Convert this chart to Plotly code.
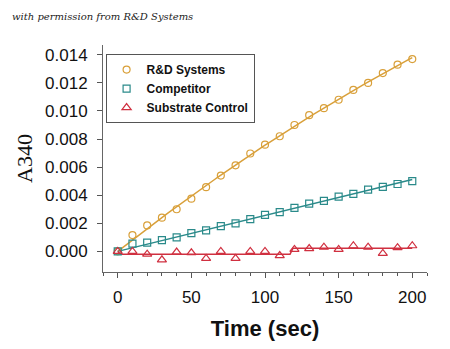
import numpy as np
import plotly.graph_objects as go

time_s = list(range(0, 201, 10))
rd_systems = [0.0000, 0.00116, 0.00185, 0.0024, 0.0030, 0.00375, 0.00457, 0.0054, 0.00613,
              0.00697, 0.0076, 0.0082, 0.0090, 0.0097, 0.0102, 0.0108, 0.0115, 0.0120,
              0.0127, 0.0133, 0.0137]
competitor = [0.0000, 0.00055, 0.00062, 0.0008, 0.0010, 0.0013, 0.0015, 0.0018, 0.0020,
              0.0023, 0.0026, 0.0028, 0.0031, 0.0034, 0.0036, 0.0039, 0.0041, 0.0044,
              0.0046, 0.0048, 0.0050]
substrate_ctrl = [0.0000, 0.0000, -0.0002, -0.0006, -0.00005, -0.0001, -0.0005, 0.0000, -0.0005,
                  0.0000, 0.0000, -0.0003, 0.00014, 0.0002, 0.0003, 0.00014, 0.0004, 0.0003,
                  -0.00015, 0.00026, 0.0004]
ctrl_step_at = 118  # time where control baseline shifts

x_ticks = [0, 50, 100, 150, 200]
y_ticks = [0.000, 0.002, 0.004, 0.006, 0.008, 0.010, 0.012, 0.014]

ORANGE = "#D9A03A"
TEAL = "#2A8A8A"
RED = "#D03040"

t = np.array(time_s, dtype=float)
tf = np.linspace(0, 200, 101)

def origin_quad_fit(y):
    y = np.array(y)
    A = np.vstack([t, t ** 2]).T
    c, *_ = np.linalg.lstsq(A, y, rcond=None)
    return c[0] * tf + c[1] * tf ** 2

def origin_lin_fit(y):
    y = np.array(y)
    k = (t * y).sum() / (t * t).sum()
    return k * tf

rd_fit = origin_quad_fit(rd_systems)
comp_fit = origin_lin_fit(competitor)

sc = np.array(substrate_ctrl)
m1 = sc[(t > 0) & (t < ctrl_step_at)].mean()
m2 = sc[t > ctrl_step_at].mean()
ctrl_x = [time_s[0], time_s[0] + 2, ctrl_step_at - 1, ctrl_step_at + 1, time_s[-1]]
ctrl_y = [substrate_ctrl[0], m1, m1, m2, m2]

fig = go.Figure()
fig.add_trace(go.Scatter(x=tf, y=rd_fit, mode="lines", line=dict(color=ORANGE, width=1.5),
                         showlegend=False, hoverinfo="skip"))
fig.add_trace(go.Scatter(x=tf, y=comp_fit, mode="lines", line=dict(color=TEAL, width=1.5),
                         showlegend=False, hoverinfo="skip"))
fig.add_trace(go.Scatter(x=ctrl_x, y=ctrl_y, mode="lines", line=dict(color=RED, width=1.5),
                         showlegend=False, hoverinfo="skip"))

fig.add_trace(go.Scatter(x=time_s, y=rd_systems, mode="markers", name="<b>R&D Systems</b>",
                         marker=dict(symbol="circle-open", size=7, color=ORANGE, line=dict(width=1.2))))
fig.add_trace(go.Scatter(x=time_s, y=competitor, mode="markers", name="<b>Competitor</b>",
                         marker=dict(symbol="square-open", size=7, color=TEAL, line=dict(width=1.2))))
fig.add_trace(go.Scatter(x=time_s, y=substrate_ctrl, mode="markers", name="<b>Substrate Control</b>",
                         marker=dict(symbol="triangle-up-open", size=8, color=RED, line=dict(width=1.2))))

fig.update_layout(
    width=450, height=349,
    margin=dict(l=103, r=23, t=45, b=77),
    paper_bgcolor="white", plot_bgcolor="white",
    font=dict(family="Arial, Liberation Sans, sans-serif", color="#111111"),
    legend=dict(x=0.008, y=0.96, xanchor="left", yanchor="top",
                bgcolor="white", bordercolor="#555555", borderwidth=1,
                font=dict(family="Arial, Liberation Sans, sans-serif", size=12, color="#111111"),
                tracegroupgap=0, itemwidth=30),
    annotations=[dict(text="<i>with permission from R&amp;D Systems</i>",
                      xref="paper", yref="paper", x=-93/324, y=1 + (45 - 17) / 227,
                      showarrow=False, xanchor="left", yanchor="middle",
                      font=dict(family="DejaVu Serif, serif", size=10, color="#222222"))],
)

fig.update_xaxes(range=[-10, 210], tickvals=x_ticks, ticks="outside", ticklen=5, tickcolor="#555555",
                 showline=True, linecolor="#666666", linewidth=1, showgrid=False, zeroline=False,
                 tickfont=dict(size=17), ticklabelstandoff=5,
                 minor=dict(dtick=10, tick0=0, ticks="outside", ticklen=3, tickcolor="#555555"),
                 title=dict(text="<b>Time (sec)</b>", font=dict(size=22), standoff=14))
fig.update_yaxes(range=[-0.00147, 0.0147], tickvals=y_ticks, tickformat=".3f", ticks="outside",
                 ticklen=5, tickcolor="#555555", showline=True, linecolor="#666666", linewidth=1,
                 showgrid=False, zeroline=False, tickfont=dict(size=17), ticklabelstandoff=6,
                 title=dict(text="A340", font=dict(family="Liberation Serif, Times New Roman, serif", size=22),
                            standoff=6))

fig.write_html("out.html")
